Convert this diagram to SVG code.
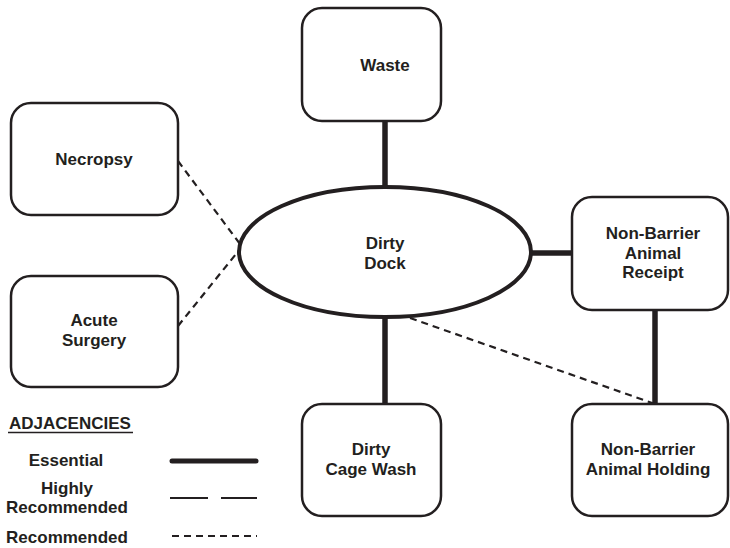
<svg xmlns="http://www.w3.org/2000/svg" width="730" height="548" viewBox="0 0 730 548">
<style>
.box{fill:#fff;stroke:#231f20;stroke-width:2.5}
.t{font-family:"Liberation Sans",Arial,sans-serif;font-weight:bold;font-size:17px;fill:#231f20;text-anchor:middle}
.ess{stroke:#231f20;stroke-width:5.5;fill:none}
.rec{stroke:#231f20;stroke-width:2.2;fill:none;stroke-dasharray:7,5}
</style>
<rect width="730" height="548" fill="#fff"/>
<g id="connectors">
<line class="ess" x1="385" y1="121" x2="385" y2="188"/>
<line class="ess" x1="385" y1="317" x2="385" y2="405"/>
<line class="ess" x1="531" y1="253" x2="573" y2="253"/>
<line class="ess" x1="655" y1="309" x2="655" y2="405"/>
<line class="rec" x1="178" y1="161" x2="240" y2="244"/>
<line class="rec" x1="178" y1="326" x2="240" y2="249"/>
<line class="rec" x1="410" y1="318" x2="655" y2="404"/>
</g>
<g id="waste"><rect class="box" x="302" y="8" width="139" height="113" rx="20"/><text class="t" x="385" y="71">Waste</text></g>
<g id="necropsy"><rect class="box" x="11" y="103" width="167" height="112" rx="20"/><text class="t" x="94" y="165">Necropsy</text></g>
<g id="acute-surgery"><rect class="box" x="11" y="276" width="167" height="111" rx="20"/><text class="t" x="94" y="326">Acute</text><text class="t" x="94" y="346">Surgery</text></g>
<g id="dirty-dock"><ellipse cx="385" cy="252" rx="146" ry="65" fill="#fff" stroke="#231f20" stroke-width="4"/><text class="t" x="385" y="249">Dirty</text><text class="t" x="385" y="269">Dock</text></g>
<g id="receipt"><rect class="box" x="572" y="197" width="156" height="113" rx="20"/><text class="t" x="653" y="239">Non-Barrier</text><text class="t" x="653" y="259">Animal</text><text class="t" x="653" y="278">Receipt</text></g>
<g id="cage-wash"><rect class="box" x="302" y="404" width="139" height="112" rx="20"/><text class="t" x="371" y="455">Dirty</text><text class="t" x="371" y="475">Cage Wash</text></g>
<g id="holding"><rect class="box" x="572" y="404" width="156" height="112" rx="20"/><text class="t" x="648" y="455">Non-Barrier</text><text class="t" x="648" y="475">Animal Holding</text></g>
<g id="legend">
<text class="t" x="70" y="429">ADJACENCIES</text>
<line x1="8" y1="432.5" x2="133" y2="432.5" stroke="#231f20" stroke-width="1.3"/>
<text class="t" x="66" y="466">Essential</text>
<text class="t" x="67" y="494">Highly</text>
<text class="t" x="67" y="513">Recommended</text>
<text class="t" x="67" y="543">Recommended</text>
<line x1="172" y1="461" x2="256" y2="461" stroke="#231f20" stroke-width="5" stroke-linecap="round"/>
<line x1="170" y1="498" x2="257" y2="498" stroke="#231f20" stroke-width="2.2" stroke-dasharray="38,13"/>
<line x1="172" y1="536" x2="257" y2="536" stroke="#231f20" stroke-width="2.2" stroke-dasharray="7,5"/>
</g>
</svg>
